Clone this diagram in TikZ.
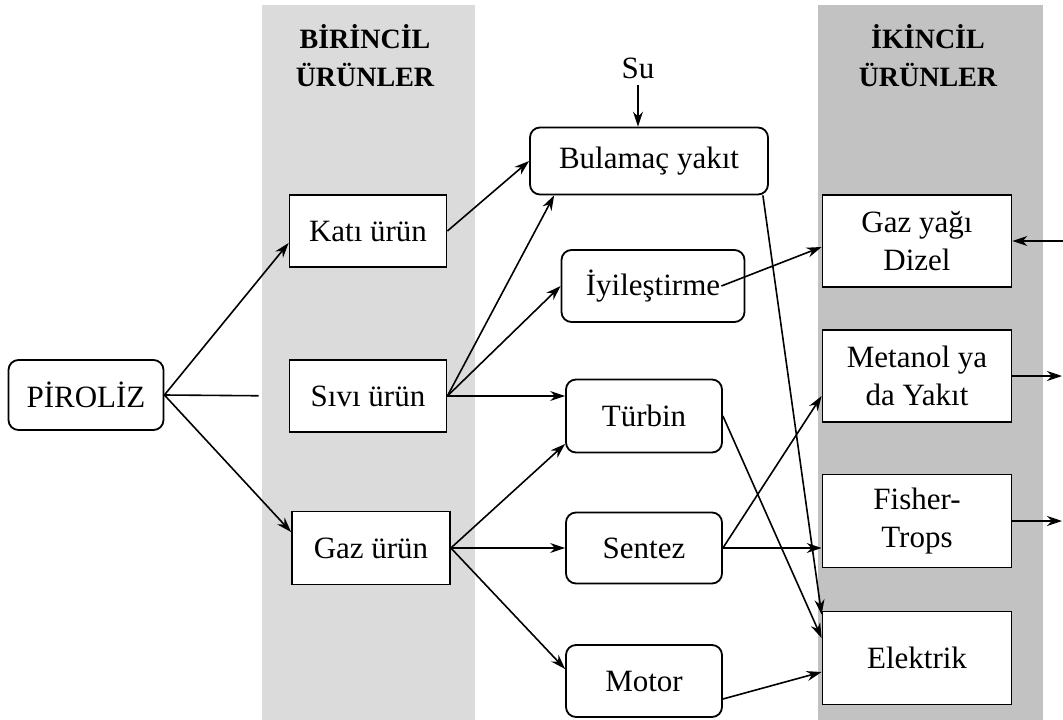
\documentclass[tikz,border=0pt]{standalone}
\usepackage{fontspec}
\setmainfont{Liberation Serif}
\usetikzlibrary{positioning,arrows.meta}

\begin{document}
\begin{tikzpicture}[
  x=1pt, y=-1pt,
  urun/.style={draw, line width=1.8pt, fill=white, align=center,
               font=\fontsize{31}{38}\selectfont, inner sep=0pt},
  islem/.style={urun, rounded corners=10pt},
  baslik/.style={font=\bfseries\fontsize{28}{38}\selectfont, align=center},
  ok/.style={-{Stealth[length=15pt,width=10pt]}, line width=1.6pt},
  cizgi/.style={line width=1.6pt},
  >=Stealth
]
  \useasboundingbox (0,0) rectangle (1063,720);

  % Bands
  \fill[gray!28] (262,5) rectangle (475,720);
  \fill[gray!48] (818,5) rectangle (1043,720);
  \node[baslik] (birincil) at (365,56) {BİRİNCİL\\ÜRÜNLER};
  \node[baslik] (ikincil) at (928,56) {İKİNCİL\\ÜRÜNLER};

  % Start
  \node[islem, minimum width=155pt, minimum height=70pt] (piroliz) at (86,395) {PİROLİZ};

  % Primary products
  \node[urun, minimum width=157pt, minimum height=72pt] (kati) at (368,231) {Katı ürün};
  \node[urun, minimum width=157pt, minimum height=72pt] (sivi) at (368,396) {Sıvı ürün};
  \node[urun, minimum width=158pt, minimum height=73pt] (gaz) at (371,548) {Gaz ürün};

  % Processes
  \node[islem, minimum width=238pt, minimum height=67pt] (bulamac) at (649,161) {Bulamaç yakıt};
  \node[islem, minimum width=183pt, minimum height=72pt] (iyilestirme) at (653,286) {İyileştirme};
  \node[islem, minimum width=156pt, minimum height=73pt] (turbin) at (644,416) {Türbin};
  \node[islem, minimum width=156pt, minimum height=71pt] (sentez) at (644,548) {Sentez};
  \node[islem, minimum width=156pt, minimum height=72pt] (motor) at (644,681) {Motor};
  \node[above=48pt of bulamac.north, anchor=south, xshift=-11pt,
        font=\fontsize{31}{38}\selectfont, inner sep=0pt] (su) {Su};

  % Secondary products
  \node[urun, minimum width=189pt, minimum height=92pt] (gazyagi) at (917,241) {Gaz yağı\\Dizel};
  \node[urun, minimum width=189pt, minimum height=92pt] (metanol) at (917,376) {Metanol ya\\da Yakıt};
  \node[urun, minimum width=189pt, minimum height=93pt] (fisher) at (917,521) {Fisher-\\Trops};
  \node[urun, minimum width=189pt, minimum height=93pt] (elektrik) at (917,658) {Elektrik};

  \coordinate (sag1) at (1063,241);
  \coordinate (sag2) at (1062,376);
  \coordinate (sag3) at (1062,521);

  % Connectors
  \draw[ok] (piroliz.east) -- ([yshift=-12pt]kati.west);
  \draw[cizgi, shorten >=30pt] (piroliz.east) -- (sivi.west);
  \draw[ok] (piroliz.east) -- ([yshift=16pt]gaz.west);

  \draw[ok] (kati.east) -- (bulamac.west);
  \draw[ok] (sivi.east) -- ([xshift=25pt]bulamac.south west);
  \draw[ok] (sivi.east) -- (iyilestirme.west);
  \draw[ok] (sivi.east) -- (sivi.east -| turbin.west);
  \draw[ok] (gaz.east) -- ([yshift=-28pt]turbin.west);
  \draw[ok] (gaz.east) -- (gaz.east -| sentez.west);
  \draw[ok] (gaz.east) -- ([yshift=12pt]motor.west);
  \draw[ok] ([yshift=-6pt]su.south) -- (su |- bulamac.north);

  \draw[ok] ([xshift=-24pt]iyilestirme.east) -- ([yshift=-6pt]gazyagi.west);
  \draw[ok] ([xshift=-6pt]bulamac.south east) -- ([yshift=-4pt]elektrik.north west);
  \draw[ok] (turbin.east) -- ([yshift=20pt]elektrik.west);
  \draw[ok] (sentez.east) -- ([yshift=-20pt]metanol.west);
  \draw[ok] (sentez.east) -- (sentez.east -| fisher.west);
  \draw[ok] ([yshift=-18pt]motor.east) -- ([yshift=-14pt]elektrik.west);

  \draw[ok] (sag1) -- (gazyagi.east);
  \draw[ok] (metanol.east) -- (sag2);
  \draw[ok] (fisher.east) -- (sag3);
\end{tikzpicture}
\end{document}
